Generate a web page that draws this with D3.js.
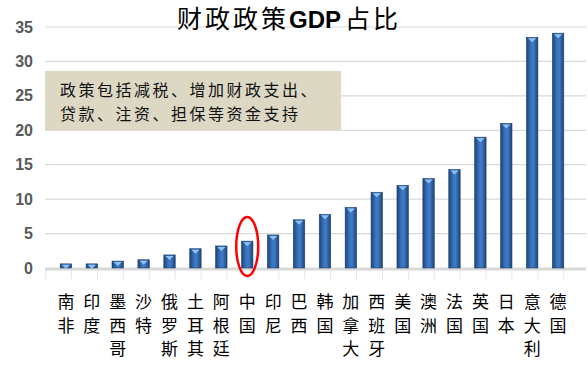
<!DOCTYPE html>
<html><head><meta charset="utf-8">
<script src="https://cdn.jsdelivr.net/npm/d3@7"></script>
<style>body{margin:0;background:#fff}svg{display:block}</style>
</head><body>
<script>
const categories = ["南非","印度","墨西哥","沙特","俄罗斯","土耳其","阿根廷","中国","印尼","巴西","韩国","加拿大","西班牙","美国","澳洲","法国","英国","日本","意大利","德国"];
const values = [0.6,0.6,1.0,1.2,1.9,2.8,3.2,3.9,4.8,7.0,7.8,8.8,11.0,12.0,13.0,14.3,19.0,21.0,33.5,34.1];
const yTicks = [0,5,10,15,20,25,30,35];
const titleParts = ["财政政策","GDP","占比"];
const noteLines = ["政策包括减税、增加财政支出、","贷款、注资、担保等资金支持"];
const highlight = "中国";

const W=588,H=369;
const svg=d3.select("body").append("svg").attr("width",W).attr("height",H);
const defs=svg.append("defs");
const g1=defs.append("linearGradient").attr("id","barg").attr("x1","0").attr("x2","1").attr("y1","0").attr("y2","0");
g1.append("stop").attr("offset","0%").attr("stop-color","#1d4478");
g1.append("stop").attr("offset","40%").attr("stop-color","#3a74bf");
g1.append("stop").attr("offset","60%").attr("stop-color","#3f7bc6");
g1.append("stop").attr("offset","100%").attr("stop-color","#1d4478");

const x=d3.scaleBand().domain(categories).range([45.7,578.3]).padding(0.56);
const y=d3.scaleLinear().domain([0,35]).range([268,27]);

// gridlines
svg.append("g").selectAll("line").data(yTicks.filter(d=>d>0)).join("line")
  .attr("x1",45).attr("x2",586).attr("y1",d=>y(d)).attr("y2",d=>y(d))
  .attr("stroke","#d9d9d9").attr("stroke-width",1.2);

// y axis labels
const ya=svg.append("g").attr("transform","translate(33,0)").call(d3.axisLeft(y).tickValues(yTicks).tickSize(0).tickPadding(0));
ya.select(".domain").remove();
ya.selectAll("text").attr("font-family","Liberation Sans, Arial, sans-serif").attr("font-weight","bold").attr("font-size","16px").attr("fill","#595959");

// annotation box
svg.append("rect").attr("x",45).attr("y",71).attr("width",296).attr("height",59).attr("fill","#dcd8c4");
svg.append("g").selectAll("text").data(noteLines).join("text")
  .attr("x",60).attr("y",(d,i)=>96+i*23.5)
  .attr("font-family","Noto Sans CJK SC").attr("font-size","16px").attr("letter-spacing","2.5px").attr("fill","#111")
  .text(d=>d);

// baseline
svg.append("line").attr("x1",45).attr("x2",586).attr("y1",y(0)+1).attr("y2",y(0)+1).attr("stroke","#d9d9d9").attr("stroke-width",3);
// x ticks
const step=x.step();
svg.append("g").selectAll("line").data(d3.range(categories.length+1)).join("line")
  .attr("x1",i=>45.7+i*step).attr("x2",i=>45.7+i*step).attr("y1",y(0)+2).attr("y2",y(0)+11)
  .attr("stroke","#e6e6e6").attr("stroke-width",1);

// bars
const bars=svg.append("g").selectAll("g").data(categories.map((c,i)=>({c,v:values[i]}))).join("g");
bars.append("rect").attr("x",d=>x(d.c)).attr("y",d=>y(d.v)).attr("width",x.bandwidth()).attr("height",d=>y(0)-y(d.v))
  .attr("fill","url(#barg)").attr("stroke","#1b3f6e").attr("stroke-width",0.6);
bars.append("path").attr("d",d=>{
  const x0=x(d.c),bw=x.bandwidth(),t=y(d.v);
  return `M${x0+1.5},${t+1}L${x0+bw-1.5},${t+1}L${x0+bw/2},${t+5}Z`;})
  .attr("fill","#8ec0f5");

// x labels (vertical)
const xl=svg.append("g").selectAll("text").data(categories).join("text")
  .attr("font-family","Noto Sans CJK SC").attr("font-size","17px").attr("fill","#000").attr("text-anchor","middle");
xl.each(function(d){
  const t=d3.select(this);
  Array.from(d).forEach((ch,i)=>{
    t.append("tspan").attr("x",x(d)+x.bandwidth()/2).attr("y",308+i*23.5).text(ch);
  });
});

// highlight ellipse
svg.append("ellipse").attr("cx",x(highlight)+x.bandwidth()/2).attr("cy",246.5).attr("rx",11).attr("ry",29.5)
  .attr("fill","none").attr("stroke","#ff0000").attr("stroke-width",2.5);

// title
const tt=svg.append("text").attr("x",289).attr("y",28).attr("text-anchor","middle").attr("fill","#000");
tt.append("tspan").attr("font-family","Noto Sans CJK SC").attr("font-size","25px").attr("letter-spacing","3px").text(titleParts[0]);
tt.append("tspan").attr("font-family","Liberation Sans, Arial").attr("font-weight","bold").attr("font-size","24px").attr("letter-spacing","0px").text(titleParts[1]);
tt.append("tspan").attr("font-family","Noto Sans CJK SC").attr("font-size","25px").attr("dx","4").attr("letter-spacing","3px").text(titleParts[2]);
</script>
</body></html>
